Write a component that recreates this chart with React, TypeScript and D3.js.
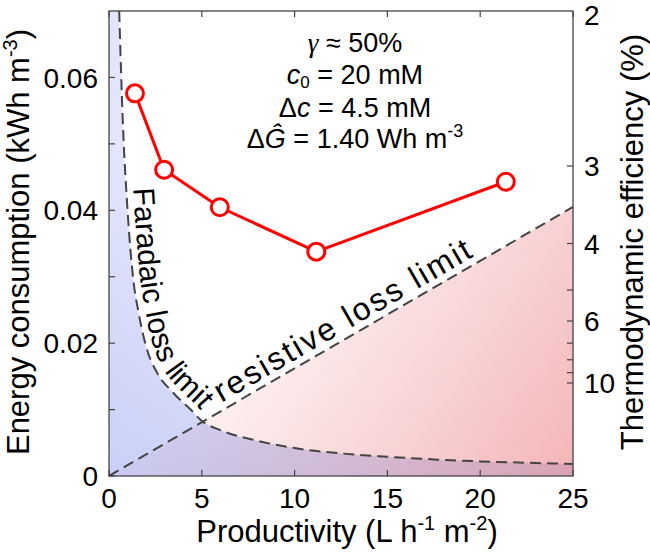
import React from 'react';
import * as d3 from 'd3';

// Measured series (productivity L h-1 m-2, energy kWh m-3)
const productivity = [1.4, 2.97, 5.97, 11.17, 21.38];
const energy = [0.0576, 0.0461, 0.04045, 0.03377, 0.0443];

// Faradaic loss limit curve
const faradaicP = [0.55, 0.74, 1.0, 1.3, 1.6, 2.0, 2.6, 3.4, 4.4, 5.0, 6.0, 8.0, 10, 12.5, 15, 17.5, 20, 22.5, 25];
const faradaicE = [0.07, 0.0536, 0.040, 0.0298, 0.0245, 0.0195, 0.0155, 0.0127, 0.0100, 0.0083, 0.0069, 0.0053, 0.0042, 0.0034, 0.0029, 0.0025, 0.0022, 0.0020, 0.0018];

// Resistive loss limit line
const resistiveP = [0, 25];
const resistiveE = [0, 0.0405];

// Axes
const xTicks = [0, 5, 10, 15, 20, 25];
const yTicksMajor = [0, 0.02, 0.04, 0.06];
const yTicksMinor = [0.01, 0.03, 0.05];
const effTicks = [3, 4, 5, 6, 7, 8, 9, 10];
const effLabels = [2, 3, 4, 6, 10];
const deltaG = 0.0014; // kWh m-3 (1.40 Wh m-3)

const FONT = "'Liberation Sans', Arial, Helvetica, sans-serif";

function offsetPoly(pts: [number, number][], d: number): [number, number][] {
  return pts.map((p, i) => {
    const a = pts[Math.max(0, i - 1)];
    const b = pts[Math.min(pts.length - 1, i + 1)];
    const dx = b[0] - a[0], dy = b[1] - a[1];
    const L = Math.hypot(dx, dy) || 1;
    return [p[0] + (d * dy) / L, p[1] - (d * dx) / L] as [number, number];
  });
}

function lengthAtY(pts: [number, number][], yy: number): number {
  let acc = 0;
  for (let i = 1; i < pts.length; i++) {
    const [x0, y0] = pts[i - 1], [x1, y1] = pts[i];
    const seg = Math.hypot(x1 - x0, y1 - y0);
    if (y1 >= yy) return acc + seg * ((yy - y0) / (y1 - y0));
    acc += seg;
  }
  return acc;
}

export default function App() {
  const W = 650, H = 555;
  const m = { l: 109, r: 573, t: 11, b: 476 };
  const x = d3.scaleLinear().domain([0, 25]).range([m.l, m.r]);
  const y = d3.scaleLinear().domain([0, 0.07]).range([m.b, m.t]);
  const effToE = (e: number) => deltaG / (e / 100);

  const farPts: [number, number][] = faradaicP.map((p, i) => [x(p), y(faradaicE[i])]);
  const farLine = d3.line().curve(d3.curveMonotoneX)(farPts) as string;
  const blueArea = farLine + `L${x(25)},${y(0)}L${x(0)},${y(0)}L${x(0)},${y(0.07)}Z`;

  const resPts: [number, number][] = resistiveP.map((p, i) => [x(p), y(resistiveE[i])]);
  const resLine = d3.line()(resPts) as string;
  const pinkArea = `M${x(resistiveP[0])},${y(resistiveE[0])}L${x(resistiveP[1])},${y(resistiveE[1])}L${x(resistiveP[1])},${y(0)}Z`;

  const farOff = offsetPoly(farPts, 7);
  const farOffPath = d3.line().curve(d3.curveCatmullRom)(farOff) as string;
  const farEnd = lengthAtY(farOff, 410);

  const resOff = offsetPoly(resPts, 7);
  const resOffPath = d3.line()(resOff) as string;

  const dataPts: [number, number][] = productivity.map((p, i) => [x(p), y(energy[i])]);
  const dataLine = d3.line()(dataPts) as string;

  const axisColor = '#444';
  const tickLen = 6;
  const fs = 28;
  const tfs = 31;

  return (
    <svg width={W} height={H} style={{ position: 'absolute', left: 0, top: 0, background: '#fff' }} fontFamily={FONT}>
      <defs>
        <clipPath id="plotClip">
          <rect x={m.l} y={m.t} width={m.r - m.l} height={m.b - m.t} />
        </clipPath>
        <linearGradient id="blueGrad" gradientUnits="userSpaceOnUse" x1={m.l} y1={m.b} x2={260} y2={260}>
          <stop offset="0" stopColor="#c9d0f8" />
          <stop offset="1" stopColor="#e3e5fa" />
        </linearGradient>
        <linearGradient id="pinkGrad" gradientUnits="userSpaceOnUse" x1={250} y1={250} x2={m.r} y2={m.b}>
          <stop offset="0" stopColor="#fffafa" />
          <stop offset="0.5" stopColor="#f9d9da" />
          <stop offset="1" stopColor="#f4b5b8" />
        </linearGradient>
      </defs>

      <g clipPath="url(#plotClip)">
        <path d={blueArea} fill="url(#blueGrad)" />
        <path d={pinkArea} fill="url(#pinkGrad)" style={{ mixBlendMode: 'multiply' }} />
        <path d={farLine} fill="none" stroke="#444" strokeWidth={2} strokeDasharray="11,6" />
        <path d={resLine} fill="none" stroke="#444" strokeWidth={2} strokeDasharray="11,6" />
      </g>

      {/* curve labels */}
      <path id="farOff" d={farOffPath} fill="none" stroke="none" />
      <path id="resOff" d={resOffPath} fill="none" stroke="none" />
      <text fontSize={30} fill="#000" textAnchor="end">
        <textPath href="#farOff" startOffset={farEnd}>Faradaic loss limit</textPath>
      </text>
      <text fontSize={32} fill="#000">
        <textPath href="#resOff" startOffset={134} textLength={292} lengthAdjust="spacing">resistive loss limit</textPath>
      </text>

      {/* data */}
      <path d={dataLine} fill="none" stroke="#ff0000" strokeWidth={3} />
      {dataPts.map((p, i) => (
        <circle key={i} cx={p[0]} cy={p[1]} r={8.5} fill="#fff" stroke="#ff0000" strokeWidth={3} />
      ))}

      {/* frame */}
      <rect x={m.l} y={m.t} width={m.r - m.l} height={m.b - m.t} fill="none" stroke={axisColor} strokeWidth={1.3} />

      {/* x ticks bottom & top */}
      {xTicks.map((t) => (
        <g key={'x' + t}>
          <line x1={x(t)} x2={x(t)} y1={m.b} y2={m.b - tickLen} stroke={axisColor} strokeWidth={1.2} />
          <line x1={x(t)} x2={x(t)} y1={m.t} y2={m.t + tickLen} stroke={axisColor} strokeWidth={1.2} />
          <text x={x(t)} y={m.b + 32} fontSize={fs} textAnchor="middle">{t}</text>
        </g>
      ))}

      {/* left y ticks */}
      {[...yTicksMajor, ...yTicksMinor].map((t) => (
        <line key={'y' + t} x1={m.l} x2={m.l + tickLen} y1={y(t)} y2={y(t)} stroke={axisColor} strokeWidth={1.2} />
      ))}
      {yTicksMajor.map((t) => (
        <text key={'yl' + t} x={m.l - 11} y={y(t)} dy="0.36em" fontSize={fs} textAnchor="end">
          {t === 0 ? '0' : d3.format('.2f')(t)}
        </text>
      ))}

      {/* right efficiency ticks */}
      {effTicks.map((e) => (
        <line key={'e' + e} x1={m.r} x2={m.r - tickLen} y1={y(effToE(e))} y2={y(effToE(e))} stroke={axisColor} strokeWidth={1.2} />
      ))}
      {effLabels.map((e) => (
        <text key={'el' + e} x={m.r + 11} y={Math.max(y(effToE(e)), m.t + 4)} dy="0.36em" fontSize={fs} textAnchor="start">{e}</text>
      ))}

      {/* axis titles */}
      <text x={347} y={542} fontSize={tfs} textAnchor="middle">
        Productivity (L h<tspan dy={-12} fontSize={20}>-1</tspan><tspan dy={12}> m</tspan><tspan dy={-12} fontSize={20}>-2</tspan><tspan dy={12}>)</tspan>
      </text>
      <text transform="translate(29,242) rotate(-90)" fontSize={tfs} textAnchor="middle">
        Energy consumption (kWh m<tspan dy={-12} fontSize={20}>-3</tspan><tspan dy={12}>)</tspan>
      </text>
      <text transform="translate(643,242) rotate(-90)" fontSize={tfs} textAnchor="middle">
        Thermodynamic efficiency (%)
      </text>

      {/* annotation */}
      <g fontSize={27} textAnchor="middle">
        <text x={355} y={52}>
          <tspan fontFamily="'Liberation Serif', 'Times New Roman', serif" fontStyle="italic">γ</tspan> ≈ 50%
        </text>
        <text x={355} y={84}>
          <tspan fontStyle="italic">c</tspan><tspan dy={4} fontSize={17}>0</tspan><tspan dy={-4}> = 20 mM</tspan>
        </text>
        <text x={355} y={117}>
          Δ<tspan fontStyle="italic">c</tspan> = 4.5 mM
        </text>
        <text x={355} y={148}>
          Δ<tspan fontStyle="italic">Ĝ</tspan> = 1.40 Wh m<tspan dy={-11} fontSize={18}>-3</tspan>
        </text>
      </g>
    </svg>
  );
}
